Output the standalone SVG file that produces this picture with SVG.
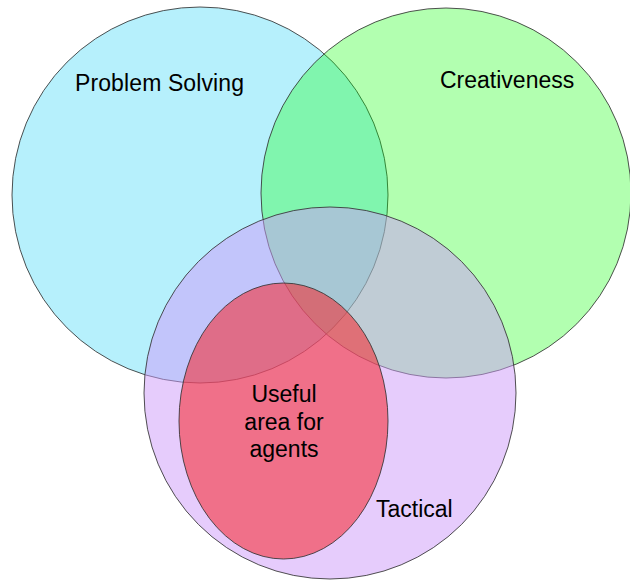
<svg xmlns="http://www.w3.org/2000/svg" width="630" height="580" viewBox="0 0 630 580">
<style>
.shape{stroke:#333333;stroke-width:1;stroke-opacity:0.85}
.lbl{font-family:"Liberation Sans",Arial,sans-serif;font-size:23px;fill:#000000}
</style>
<rect x="0" y="0" width="630" height="580" fill="#ffffff"/>
<g id="problem-solving">
<circle class="shape" cx="200" cy="195" r="188" fill="#0CCDF5" fill-opacity="0.3"/>
</g>
<g id="creativeness">
<circle class="shape" cx="446" cy="193" r="185" fill="#0AFF04" fill-opacity="0.315"/>
</g>
<g id="tactical">
<circle class="shape" cx="330" cy="393" r="186" fill="#CD99F9" fill-opacity="0.5"/>
</g>
<g id="useful-area">
<ellipse class="shape" cx="283.5" cy="421" rx="104.5" ry="138" fill="#F82529" fill-opacity="0.55"/>
</g>
<g id="labels">
<text class="lbl" x="75" y="91" textLength="169">Problem Solving</text>
<text class="lbl" x="440" y="88">Creativeness</text>
<text class="lbl" x="376" y="517">Tactical</text>
<text class="lbl" text-anchor="middle" x="284" y="402">Useful</text>
<text class="lbl" text-anchor="middle" x="284" y="430">area for</text>
<text class="lbl" text-anchor="middle" x="284" y="457">agents</text>
</g>
<g id="connectors"></g>
</svg>
